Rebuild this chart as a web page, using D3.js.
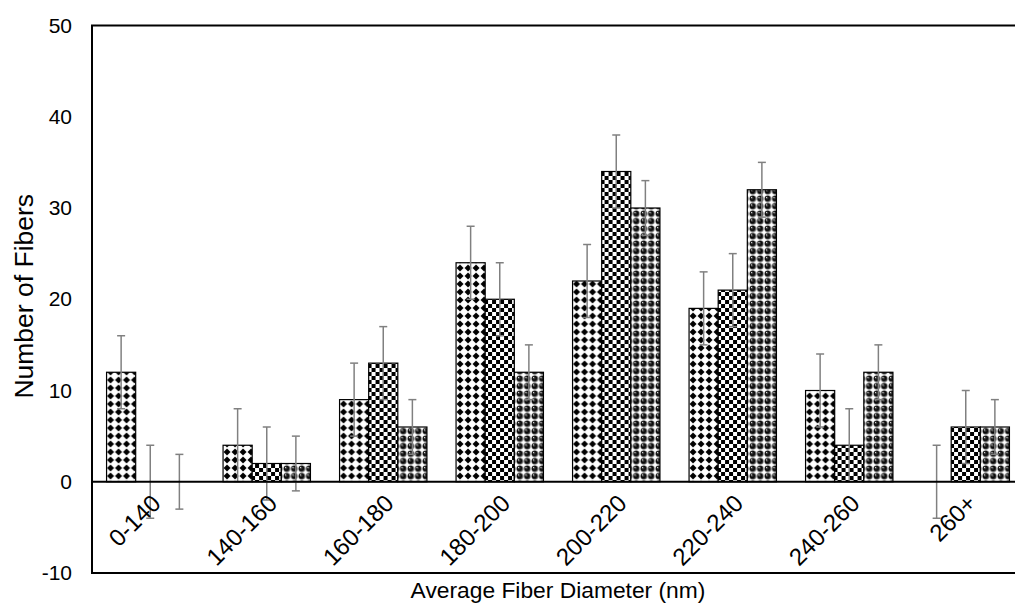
<!DOCTYPE html>
<html>
<head>
<meta charset="utf-8">
<script src="https://cdn.jsdelivr.net/npm/d3@7"></script>
<style>
  html, body { margin: 0; padding: 0; background: #fff; }
  svg { display: block; }
  text { font-family: "Liberation Sans", Arial, sans-serif; fill: #000; }
</style>
</head>
<body>
<svg id="chart" width="1015" height="604"></svg>
<script>
// ---- data ----
const categories = ["0-140", "140-160", "160-180", "180-200", "200-220", "220-240", "240-260", "260+"];
const seriesNames = ["A", "B", "C"];
const seriesA = [12, 4, 9, 24, 22, 19, 10, 0];
const seriesB = [0, 2, 13, 20, 34, 21, 4, 6];
const seriesC = [0, 2, 6, 12, 30, 32, 12, 6];
const errorsA = [4, 4, 4, 4, 4, 4, 4, 4];
const errorsB = [4, 4, 4, 4, 4, 4, 4, 4];
const errorsC = [3, 3, 3, 3, 3, 3, 3, 3];
const yTicks = [-10, 0, 10, 20, 30, 40, 50];

const seriesValues = [seriesA, seriesB, seriesC];
const seriesErrors = [errorsA, errorsB, errorsC];

// ---- layout ----
const svg = d3.select("#chart");
const mLeft = 92, mRight = 1024, mTop = 25.5, mBottom = 573;

const x0 = d3.scaleBand().domain(categories).range([mLeft, mRight]).paddingInner(0.25).paddingOuter(0.125);
const x1 = d3.scaleBand().domain(seriesNames).range([0, x0.bandwidth()]);
const y = d3.scaleLinear().domain([-10, 50]).range([mBottom, mTop]);

// ---- patterns ----
const defs = svg.append("defs");
// diamonds
const pA = defs.append("pattern").attr("id", "patA").attr("patternUnits", "userSpaceOnUse")
  .attr("width", 8).attr("height", 8);
pA.append("rect").attr("width", 8).attr("height", 8).attr("fill", "#fff");
pA.append("polygon").attr("points", "4,0.5 7.5,4 4,7.5 0.5,4").attr("fill", "#000");
// checkerboard
const pB = defs.append("pattern").attr("id", "patB").attr("patternUnits", "userSpaceOnUse")
  .attr("width", 8).attr("height", 8);
pB.append("rect").attr("width", 8).attr("height", 8).attr("fill", "#fff");
pB.append("rect").attr("width", 4).attr("height", 4).attr("fill", "#000");
pB.append("rect").attr("x", 4).attr("y", 4).attr("width", 4).attr("height", 4).attr("fill", "#000");
// spheres
const grad = defs.append("radialGradient").attr("id", "sph").attr("cx", "0.5").attr("cy", "0.5").attr("r", "0.5")
  .attr("fx", "0.3").attr("fy", "0.3");
grad.append("stop").attr("offset", "0").attr("stop-color", "#fff");
grad.append("stop").attr("offset", "0.22").attr("stop-color", "#444");
grad.append("stop").attr("offset", "0.6").attr("stop-color", "#000");
grad.append("stop").attr("offset", "0.85").attr("stop-color", "#444");
grad.append("stop").attr("offset", "1").attr("stop-color", "#999");
const pC = defs.append("pattern").attr("id", "patC").attr("patternUnits", "userSpaceOnUse")
  .attr("width", 7.5).attr("height", 7.5);
pC.append("rect").attr("width", 7.5).attr("height", 7.5).attr("fill", "#fff");
pC.append("circle").attr("cx", 3.75).attr("cy", 3.75).attr("r", 3.5).attr("fill", "url(#sph)");
const fills = ["url(#patA)", "url(#patB)", "url(#patC)"];

// ---- bars ----
const groups = svg.append("g").selectAll("g").data(categories).join("g")
  .attr("transform", d => `translate(${x0(d)},0)`);

groups.each(function(cat, ci) {
  const g = d3.select(this);
  seriesNames.forEach((s, si) => {
    const v = seriesValues[si][ci];
    if (v !== 0) {
      g.append("rect")
        .attr("x", x1(s))
        .attr("y", y(Math.max(0, v)))
        .attr("width", x1.bandwidth())
        .attr("height", Math.abs(y(v) - y(0)))
        .attr("fill", fills[si])
        .attr("stroke", "#000")
        .attr("stroke-width", 1.2);
    }
  });
});

// zero line
svg.append("line").attr("x1", mLeft).attr("x2", mRight).attr("y1", y(0)).attr("y2", y(0))
  .attr("stroke", "#000").attr("stroke-width", 2);

// ---- error bars ----
groups.each(function(cat, ci) {
  const g = d3.select(this);
  seriesNames.forEach((s, si) => {
    const v = seriesValues[si][ci], e = seriesErrors[si][ci];
    const cx = x1(s) + x1.bandwidth() / 2;
    const eg = g.append("g").attr("stroke", "#808080").attr("stroke-width", 1.5);
    eg.append("line").attr("x1", cx).attr("x2", cx).attr("y1", y(v + e)).attr("y2", y(v - e));
    eg.append("line").attr("x1", cx - 4).attr("x2", cx + 4).attr("y1", y(v + e)).attr("y2", y(v + e));
    eg.append("line").attr("x1", cx - 4).attr("x2", cx + 4).attr("y1", y(v - e)).attr("y2", y(v - e));
  });
});

// ---- frame ----
svg.append("rect").attr("x", mLeft).attr("y", mTop).attr("width", mRight - mLeft).attr("height", mBottom - mTop)
  .attr("fill", "none").attr("stroke", "#000").attr("stroke-width", 2);

// ---- y axis ticks ----
const yAxis = d3.axisLeft(y).tickValues(yTicks).tickSize(0).tickPadding(20).tickFormat(d => String(d));
const yg = svg.append("g").attr("transform", `translate(${mLeft},0)`).call(yAxis);
yg.select(".domain").remove();
yg.selectAll("text").style("font-size", "21px").attr("fill", "#000")
  .style("font-family", "'Liberation Sans', Arial, sans-serif");

// ---- x labels ----
svg.append("g").selectAll("text").data(categories).join("text")
  .attr("transform", d => `translate(${x0(d) + x0.bandwidth() / 2 + 6},${y(0) + 17}) rotate(-45)`)
  .attr("text-anchor", "end")
  .attr("dy", "0.35em")
  .style("font-size", "24px")
  .text(d => d);

// ---- titles ----
svg.append("text")
  .attr("transform", `translate(33,${(mTop + mBottom) / 2 - 3}) rotate(-90)`)
  .attr("text-anchor", "middle")
  .style("font-size", "26.5px")
  .text("Number of Fibers");

svg.append("text")
  .attr("x", (mLeft + mRight) / 2)
  .attr("y", 598)
  .attr("text-anchor", "middle")
  .style("font-size", "22.8px")
  .text("Average Fiber Diameter (nm)");
</script>
</body>
</html>
